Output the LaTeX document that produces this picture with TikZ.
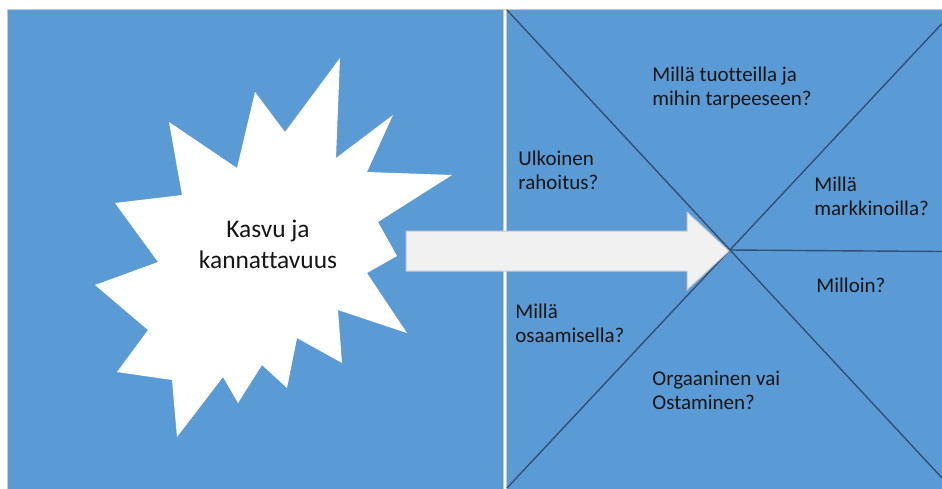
\documentclass[tikz,border=0pt]{standalone}
\usepackage{fontspec}
\setmainfont{Carlito}[Ligatures=NoCommon]
\definecolor{panelblue}{RGB}{91,155,213}
\definecolor{rule}{RGB}{48,80,118}
\definecolor{frame}{RGB}{200,200,200}
\definecolor{arrowfill}{RGB}{241,241,241}
\definecolor{ink}{RGB}{22,22,22}
\tikzset{
  question/.style={anchor=north west, inner sep=0pt, align=left, text=ink,
    font=\fontsize{10.5}{12}\selectfont},
  burstlabel/.style={anchor=north, inner sep=0pt, align=center, text=ink,
    font=\fontsize{12.7}{15.5}\selectfont},
  divider/.style={draw=rule, line width=0.7pt},
}
\begin{document}
\begin{tikzpicture}[x=0.5pt, y=-0.5pt]
  \useasboundingbox (0,0) rectangle (942,488);
  \fill[white] (0,0) rectangle (942,488);

  % blue background with a thin light frame
  \draw[frame, fill=panelblue, line width=0.6pt] (7.5,9.5) rectangle (960,500);

  % vertical separator between the two halves
  \draw[frame, line width=1.8pt] (505,9.5) -- (505,490);
  \draw[white, line width=0.9pt] (505,10) -- (505,490);

  % right half: crossing lines and the horizontal ray
  \coordinate (tl) at (507,10);
  \coordinate (bl) at (507,488);
  \coordinate (c)  at (730,250);
  \coordinate (br) at (942,478);
  \coordinate (tr) at (942,23.5);
  \coordinate (mr) at (942,251.5);
  \draw[divider] (tl) -- (br);
  \draw[divider] (bl) -- (tr);
  \draw[divider] (c) -- (mr);

  % starburst
  \fill[white] (340,58) -- (336,158) -- (393,115) -- (367,172) -- (452,175)
    -- (378,222) -- (397,256) -- (367,273) -- (407,333) -- (338,310)
    -- (342,363) -- (297,338) -- (287,388) -- (262,365) -- (238,403)
    -- (223,377) -- (177,437) -- (172,380) -- (117,372) -- (148,330)
    -- (95,285) -- (158,262) -- (115,203) -- (182,195) -- (169,122)
    -- (237,168) -- (255,92) -- (285,132) -- cycle;
  \node[burstlabel] (burst) at (268,215) {\strut Kasvu ja\\kannattavuus};

  % block arrow
  \draw[frame, fill=arrowfill, line width=0.5pt]
    (406,231) -- (687,231) -- (687,212) -- (729,251) -- (687,290)
    -- (687,271) -- (406,271) -- cycle;

  % questions
  \node[question] (q1) at (652,64.2)  {\strut Millä tuotteilla ja\\mihin tarpeeseen?};
  \node[question] (q2) at (518,148.7) {\strut Ulkoinen\\rahoitus?};
  \node[question] (q3) at (814,174)   {\strut Millä\\markkinoilla?};
  \node[question] (q4) at (816,275.5) {\strut Milloin?};
  \node[question] (q5) at (515,301.5) {\strut Millä\\osaamisella?};
  \node[question] (q6) at (652,368.2) {\strut Orgaaninen vai\\Ostaminen?};
\end{tikzpicture}
\end{document}
